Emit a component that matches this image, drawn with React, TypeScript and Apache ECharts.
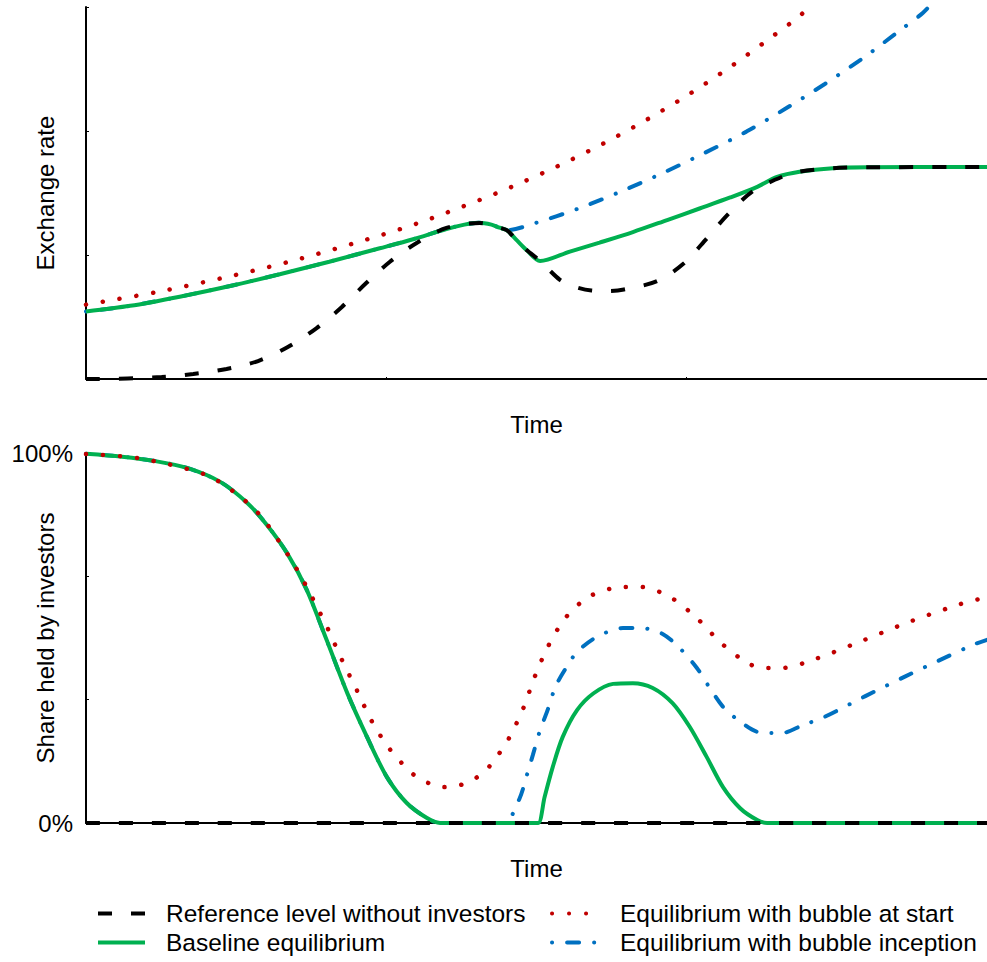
import React, { useEffect, useRef } from "react";
import * as echarts from "echarts";

// ---- text ----
const timeName = "Time";
const topYName = "Exchange rate";
const bottomYName = "Share held by investors";
const shareTickLabels = ["0%", "100%"];
const nameReference = "Reference level without investors";
const nameBaseline = "Baseline equilibrium";
const nameBubbleStart = "Equilibrium with bubble at start";
const nameBubbleInception = "Equilibrium with bubble inception";

// ---- top panel: exchange rate (time 0..100, rate in arbitrary units 0..3) ----
const topReference: number[][] = [
  [0, 0], [0.8, 0], [8.4, 0.016], [11.9, 0.04], [15.6, 0.081], [19.1, 0.145], [22.4, 0.258],
  [25.6, 0.411], [28.4, 0.581], [31.1, 0.774], [33.7, 0.944], [36.7, 1.097], [40.0, 1.218],
  [43.7, 1.258], [45.9, 1.22], [46.7, 1.2], [47.8, 1.12], [48.9, 1.04], [50.4, 0.952],
  [52.6, 0.8], [54.2, 0.745], [56.1, 0.714], [58.0, 0.71], [59.7, 0.722], [63.4, 0.79],
  [66.4, 0.935], [68.9, 1.134], [71.3, 1.332], [74.0, 1.514], [77.3, 1.632], [79.2, 1.672],
  [82.9, 1.7], [86.7, 1.707], [100, 1.71],
];
const topBaseline: number[][] = [
  [0, 0.545], [4.9, 0.59], [10.4, 0.664], [16, 0.75], [21.5, 0.845], [27, 0.946], [32.6, 1.054],
  [36.3, 1.127], [40.0, 1.21], [42.0, 1.245], [43.6, 1.26], [45.0, 1.245], [45.9, 1.22],
  [46.7, 1.2], [47.8, 1.12], [48.9, 1.04], [50.4, 0.952], [53.7, 1.027], [57.0, 1.1],
  [60.7, 1.185], [64.5, 1.282], [68.1, 1.375], [71.5, 1.464], [74.5, 1.55], [76.7, 1.63],
  [79.2, 1.672], [82.9, 1.7], [86.7, 1.707], [100, 1.71],
];
const topBubbleStart: number[][] = [
  [0, 0.6], [7.7, 0.699], [15.0, 0.812], [22.3, 0.941], [29.5, 1.089], [36.7, 1.253],
  [43.7, 1.444], [47.2, 1.548], [52.4, 1.718], [57.4, 1.898], [62.3, 2.094], [67.1, 2.304],
  [71.8, 2.532], [76.4, 2.774], [79.4, 2.94], [81.5, 3.1],
];
const topBubbleInceptionBranch: number[][] = [
  [46.7, 1.2], [49.8, 1.256], [54.7, 1.376], [59.5, 1.516], [64.1, 1.664], [68.7, 1.825],
  [73.3, 1.995], [77.7, 2.183], [82.0, 2.379], [86.2, 2.586], [90.3, 2.809], [92.9, 2.954],
  [94.5, 3.08],
];

// ---- bottom panel: share held by investors (%) ----
const bottomReference: number[][] = [[0, 0], [100, 0]];
const bottomBaseline: number[][] = [
  [0, 99.8], [4, 99.0], [7.7, 97.8], [11.3, 95.9], [14.9, 92.2], [17.9, 86.5], [20.1, 80.5],
  [22.3, 73.0], [24.5, 63.0], [26.7, 49.5], [29.0, 35.1], [31.2, 23.2], [33.4, 12.4],
  [35.6, 5.4], [37.8, 1.4], [39.3, 0], [49.6, 0], [50.2, 0], [50.9, 7], [51.8, 15.1], [52.9, 23.2],
  [54.5, 30.5], [56.3, 35], [58.5, 37.6], [60.7, 37.8], [62.9, 36.5], [65.1, 32.4],
  [67.0, 26], [68.9, 17.8], [70.7, 9.7], [72.6, 4], [74.5, 0.8], [75.6, 0], [100, 0],
];
const bottomBubbleStart: number[][] = [
  [0, 99.7], [5.8, 98.6], [13.1, 94.3], [16.3, 89.7], [19.2, 83.5], [21.4, 76.2], [23.4, 68.6],
  [25.2, 60.5], [26.9, 52.2], [28.4, 44.1], [30.1, 35.7], [31.7, 27.6], [33.7, 20.0],
  [36.3, 13.2], [38.0, 10.8], [39.7, 9.7], [41.6, 10.3], [43.3, 12.2], [44.7, 15.1],
  [45.8, 18.6], [46.9, 22.7], [48.5, 30.8], [49.8, 39.5], [51.3, 47.8], [53.3, 55.7],
  [56.0, 61.4], [59.7, 63.8], [61.6, 63.8], [65.0, 60.8], [67.9, 55.1], [70.6, 48.4],
  [73.6, 43.0], [75.4, 41.9], [77.2, 41.9], [80.9, 44.3], [86.1, 49.2], [91.3, 54.3],
  [96.7, 58.9], [98.7, 60.3], [100, 60.8],
];
const bottomBubbleInceptionBranch: number[][] = [
  [45.8, 0], [46.5, 0], [48.1, 6.5], [49.0, 13.5], [49.6, 18.4], [50.4, 25.1], [51.2, 30.3], [52.1, 36.8],
  [53.2, 41.6], [54.5, 46.2], [56.7, 50.3], [59.6, 52.7], [61.6, 52.7], [64.0, 51.1],
  [66.0, 47.0], [67.8, 41.9], [69.1, 37.0], [70.7, 31.4], [72.5, 27.6], [74.6, 24.6],
  [77.2, 24.3], [79.6, 26.5], [81.9, 28.6], [86.5, 34.3], [91.0, 39.7], [95.7, 45.1],
  [98.7, 48.4], [100, 49.5],
];

// before inception the bubble-inception path coincides with the baseline
const topBubbleInception = topBaseline
  .filter((p) => p[0] < topBubbleInceptionBranch[0][0])
  .concat(topBubbleInceptionBranch);
const bottomBubbleInception = bottomBaseline
  .filter((p) => p[0] < bottomBubbleInceptionBranch[0][0])
  .concat(bottomBubbleInceptionBranch);

const FONT = "'Liberation Sans', Arial, Helvetica, sans-serif";
const BLACK = "#000000";
const GREEN = "#00B050";
const RED = "#C00000";
const BLUE = "#0070C0";

const styles: Record<string, any> = {
  [nameReference]: { color: BLACK, width: 4, type: [14, 19], cap: "butt" },
  [nameBaseline]: { color: GREEN, width: 4, type: "solid", cap: "butt" },
  [nameBubbleStart]: { color: RED, width: 4.5, type: [0.1, 16.9], cap: "round" },
  [nameBubbleInception]: { color: BLUE, width: 4, type: [0.1, 15, 12, 15], cap: "round" },
};

function makeSeries(name: string, data: number[][], idx: number, z: number) {
  const ls = styles[name];
  return {
    type: "line",
    name,
    data,
    xAxisIndex: idx,
    yAxisIndex: idx,
    symbol: "none",
    smooth: 0.3,
    clip: true,
    color: ls.color,
    lineStyle: { ...ls },
    z,
  };
}

export default function App() {
  const ref = useRef<HTMLDivElement>(null);
  useEffect(() => {
    if (!ref.current) return;
    const chart = echarts.init(ref.current, undefined, { renderer: "svg" });
    const axisLine = { show: true, onZero: false, lineStyle: { color: BLACK, width: 2 } };
    const nameStyle = { fontSize: 24, color: BLACK, fontFamily: FONT };
    const xAxisCommon = {
      type: "value",
      min: 0,
      max: 100,
      interval: 100 / 3,
      axisLine,
      axisTick: { show: true, inside: true, length: 2, lineStyle: { color: BLACK, width: 1 } },
      axisLabel: { show: false },
      splitLine: { show: false },
      name: timeName,
      nameLocation: "middle",
      nameGap: 33,
      nameMoveOverlap: false,
      nameTextStyle: nameStyle,
    };
    const legendCommon = {
      orient: "vertical",
      top: 900,
      padding: 0,
      itemWidth: 47,
      itemHeight: 14,
      itemGap: 2,
      itemStyle: { opacity: 0 },
      lineStyle: { width: 4 },
      textStyle: { fontSize: 24.5, lineHeight: 27, color: BLACK, fontFamily: FONT, padding: [0, 0, 0, 16] },
      selectedMode: false,
    };
    chart.setOption({
      animation: false,
      backgroundColor: "#ffffff",
      textStyle: { fontFamily: FONT },
      grid: [
        { left: 86, top: 7, width: 901, height: 372, containLabel: false, outerBoundsMode: "none" },
        { left: 86, top: 453, width: 901, height: 370, containLabel: false, outerBoundsMode: "none" },
      ],
      xAxis: [
        { ...xAxisCommon, gridIndex: 0 },
        { ...xAxisCommon, gridIndex: 1 },
      ],
      yAxis: [
        {
          type: "value",
          gridIndex: 0,
          min: 0,
          max: 3,
          interval: 1,
          axisLine,
          axisTick: { show: true, inside: true, length: 3, lineStyle: { color: BLACK, width: 1 } },
          axisLabel: { show: false },
          splitLine: { show: false },
          name: topYName,
          nameLocation: "middle",
          nameRotate: 90,
          nameGap: 29,
          nameMoveOverlap: false,
          nameTextStyle: nameStyle,
        },
        {
          type: "value",
          gridIndex: 1,
          min: 0,
          max: 100,
          interval: 100 / 3,
          axisLine,
          axisTick: { show: true, inside: true, length: 3, lineStyle: { color: BLACK, width: 1 } },
          axisLabel: {
            show: true,
            margin: 13,
            fontSize: 24,
            color: BLACK,
            fontFamily: FONT,
            formatter: (v: number) =>
              Math.abs(v) < 1e-3 ? shareTickLabels[0] : Math.abs(v - 100) < 1e-3 ? shareTickLabels[1] : "",
          },
          splitLine: { show: false },
          name: bottomYName,
          nameLocation: "middle",
          nameRotate: 90,
          nameGap: 29,
          nameMoveOverlap: false,
          nameTextStyle: nameStyle,
        },
      ],
      legend: [
        { ...legendCommon, left: 96, data: [nameReference, nameBaseline] },
        { ...legendCommon, left: 550, data: [nameBubbleStart, nameBubbleInception] },
      ],
      series: [
        makeSeries(nameBubbleInception, topBubbleInception, 0, 2),
        makeSeries(nameBaseline, topBaseline, 0, 3),
        makeSeries(nameBubbleStart, topBubbleStart, 0, 4),
        makeSeries(nameReference, topReference, 0, 5),
        makeSeries(nameBubbleInception, bottomBubbleInception, 1, 2),
        makeSeries(nameBaseline, bottomBaseline, 1, 3),
        makeSeries(nameBubbleStart, bottomBubbleStart, 1, 4),
        makeSeries(nameReference, bottomReference, 1, 5),
      ],
    });
    return () => chart.dispose();
  }, []);
  return (
    <div
      ref={ref}
      style={{ position: "absolute", left: 0, top: 0, width: 987, height: 962, background: "#fff" }}
    />
  );
}
